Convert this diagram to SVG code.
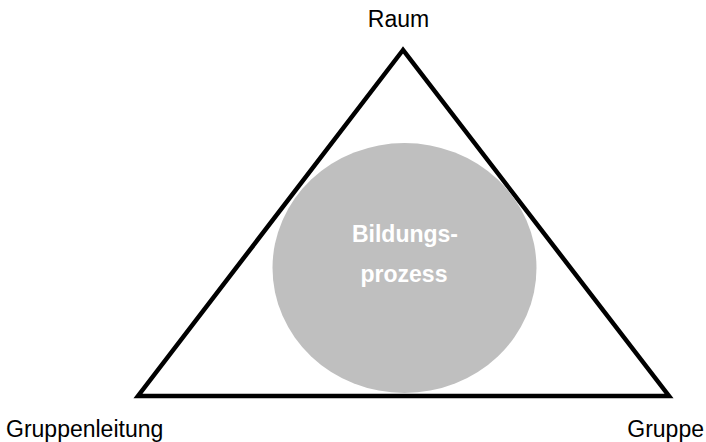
<svg xmlns="http://www.w3.org/2000/svg" width="706" height="442" viewBox="0 0 706 442">
<style>
.lbl{font-family:"Liberation Sans",Arial,sans-serif;font-size:23px;fill:#000}
.in{font-family:"Liberation Sans",Arial,sans-serif;font-size:23px;font-weight:bold;fill:#fff;text-anchor:middle}
</style>
<rect width="706" height="442" fill="#fff"/>
<g id="triangle">
<polygon points="403,50 138,396 669,396" fill="none" stroke="#000" stroke-width="4.5" stroke-linejoin="miter"/>
</g>
<g id="bildungsprozess">
<ellipse cx="404.5" cy="268" rx="132" ry="125" fill="#bfbfbf"/>
<text class="in" x="405" y="242">Bildungs-</text>
<text class="in" x="404" y="282">prozess</text>
</g>
<g id="raum"><text class="lbl" x="398.5" y="27" text-anchor="middle">Raum</text></g>
<g id="gruppenleitung"><text class="lbl" x="6" y="437">Gruppenleitung</text></g>
<g id="gruppe"><text class="lbl" x="704" y="437" text-anchor="end">Gruppe</text></g>
</svg>
